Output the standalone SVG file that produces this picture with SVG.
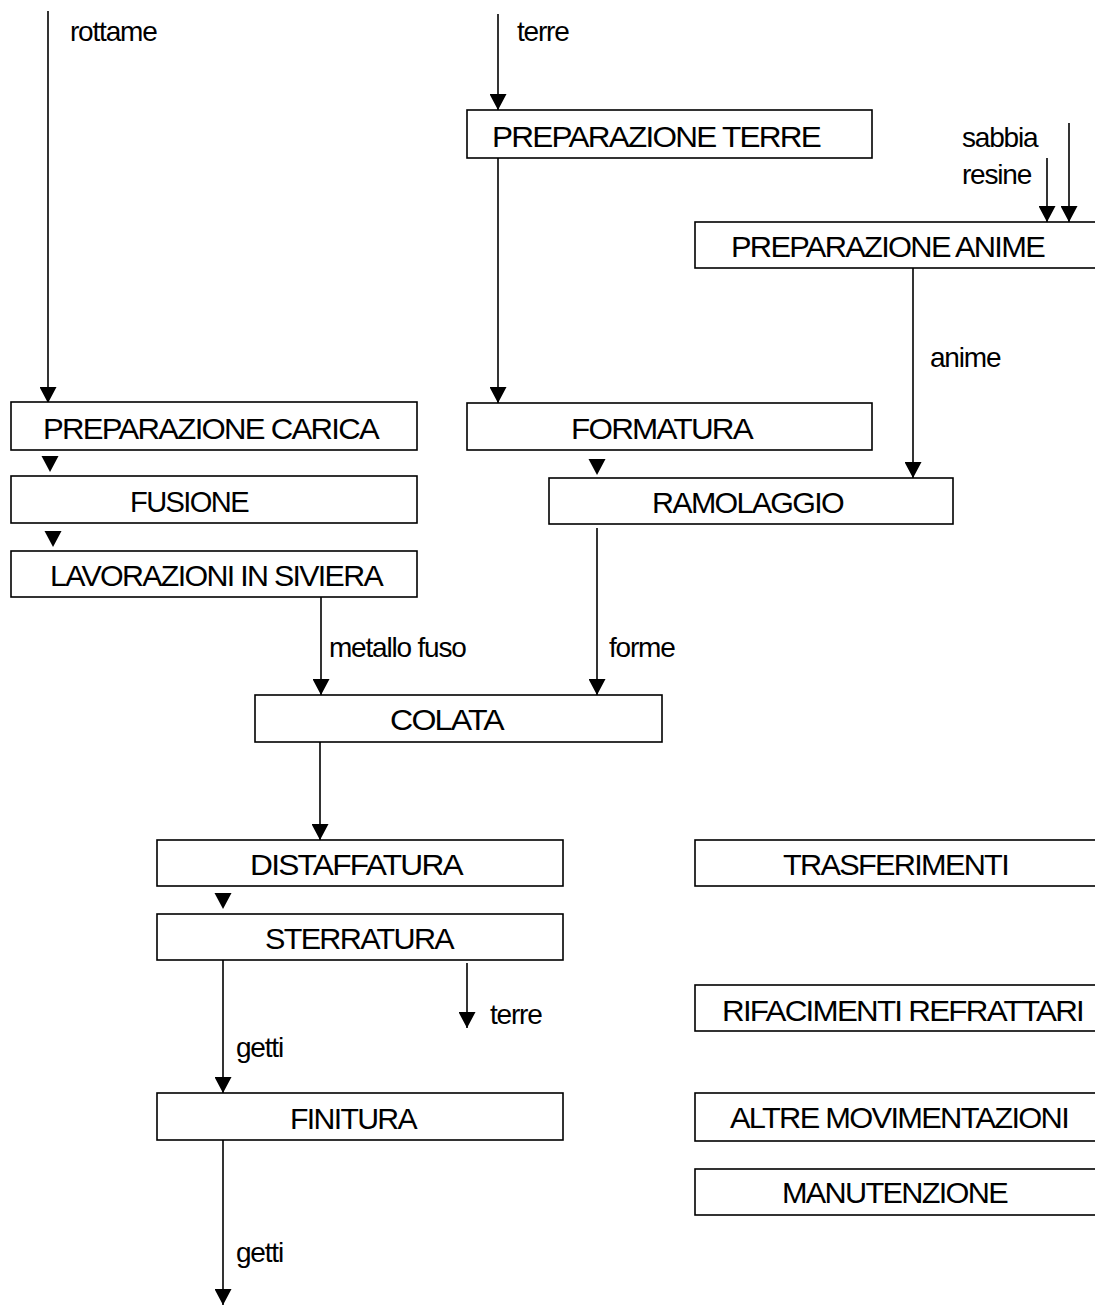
<svg xmlns="http://www.w3.org/2000/svg" width="1095" height="1307" viewBox="0 0 1095 1307">
  <style>
    .box { fill: #fff; stroke: #000; stroke-width: 1.6; }
    .lbl { font-family: "Liberation Sans", Arial, sans-serif; font-size: 29px; fill: #000; letter-spacing: -1.6px; }
    .flw { font-family: "Liberation Sans", Arial, sans-serif; font-size: 28px; fill: #000; letter-spacing: -1.2px; }
    .flow { stroke: #000; stroke-width: 1.6; fill: none; marker-end: url(#arrow); }
  </style>
  <defs>
    <marker id="arrow" markerUnits="userSpaceOnUse" markerWidth="17" markerHeight="17" refX="16" refY="8.5" orient="auto">
      <path d="M0,0 L16,8.5 L0,17 z" fill="#000"/>
    </marker>
    <!-- stand-alone small arrowhead, tip at (0,0) -->
    <path id="tri" d="M-8.5,-16 L8.5,-16 L0,0 z" fill="#000"/>
  </defs>

  <rect width="1095" height="1307" fill="#fff"/>

  <!-- connectors -->
  <g id="connectors">
    <line class="flow" x1="48" y1="11" x2="48" y2="403"/>
    <line class="flow" x1="498" y1="14" x2="498" y2="110"/>
    <line class="flow" x1="498" y1="158" x2="498" y2="403"/>
    <line class="flow" x1="1047" y1="158" x2="1047" y2="222"/>
    <line class="flow" x1="1069" y1="123" x2="1069" y2="222"/>
    <line class="flow" x1="913" y1="268" x2="913" y2="478"/>
    <line class="flow" x1="321" y1="597" x2="321" y2="695"/>
    <line class="flow" x1="597" y1="528" x2="597" y2="695"/>
    <line class="flow" x1="320" y1="742" x2="320" y2="840"/>
    <line class="flow" x1="223" y1="960" x2="223" y2="1093"/>
    <line class="flow" x1="467" y1="963" x2="467" y2="1028"/>
    <line class="flow" x1="223" y1="1140" x2="223" y2="1305"/>
    <!-- short step arrows between stacked boxes -->
    <use href="#tri" x="50" y="472"/>
    <use href="#tri" x="53" y="547"/>
    <use href="#tri" x="597" y="475"/>
    <use href="#tri" x="223" y="909"/>
    <!-- flow labels -->
    <text class="flw" x="70" y="41">rottame</text>
    <text class="flw" x="517" y="41">terre</text>
    <text class="flw" x="962" y="147">sabbia</text>
    <text class="flw" x="962" y="184">resine</text>
    <text class="flw" x="930" y="367">anime</text>
    <text class="flw" x="329" y="657">metallo fuso</text>
    <text class="flw" x="609" y="657">forme</text>
    <text class="flw" x="236" y="1057">getti</text>
    <text class="flw" x="490" y="1024">terre</text>
    <text class="flw" x="236" y="1262">getti</text>
  </g>

  <!-- process steps -->
  <g id="prep-terre">
    <rect class="box" x="467" y="110" width="405" height="48"/>
    <text class="lbl" x="492" y="147" textLength="328" lengthAdjust="spacingAndGlyphs">PREPARAZIONE  TERRE</text>
  </g>
  <g id="prep-anime">
    <rect class="box" x="695" y="222" width="410" height="46"/>
    <text class="lbl" x="731" y="257" textLength="313" lengthAdjust="spacingAndGlyphs">PREPARAZIONE ANIME</text>
  </g>
  <g id="prep-carica">
    <rect class="box" x="11" y="402" width="406" height="48"/>
    <text class="lbl" x="43" y="439" textLength="335" lengthAdjust="spacingAndGlyphs">PREPARAZIONE CARICA</text>
  </g>
  <g id="fusione">
    <rect class="box" x="11" y="476" width="406" height="47"/>
    <text class="lbl" x="130" y="512" textLength="118" lengthAdjust="spacingAndGlyphs">FUSIONE</text>
  </g>
  <g id="lavorazioni">
    <rect class="box" x="11" y="551" width="406" height="46"/>
    <text class="lbl" x="50" y="586" textLength="332" lengthAdjust="spacingAndGlyphs">LAVORAZIONI IN SIVIERA</text>
  </g>
  <g id="formatura">
    <rect class="box" x="467" y="403" width="405" height="47"/>
    <text class="lbl" x="571" y="439" textLength="181" lengthAdjust="spacingAndGlyphs">FORMATURA</text>
  </g>
  <g id="ramolaggio">
    <rect class="box" x="549" y="478" width="404" height="46"/>
    <text class="lbl" x="652" y="513" textLength="191" lengthAdjust="spacingAndGlyphs">RAMOLAGGIO</text>
  </g>
  <g id="colata">
    <rect class="box" x="255" y="695" width="407" height="47"/>
    <text class="lbl" x="390" y="730" textLength="113" lengthAdjust="spacingAndGlyphs">COLATA</text>
  </g>
  <g id="distaffatura">
    <rect class="box" x="157" y="840" width="406" height="46"/>
    <text class="lbl" x="250" y="875" textLength="212" lengthAdjust="spacingAndGlyphs">DISTAFFATURA</text>
  </g>
  <g id="sterratura">
    <rect class="box" x="157" y="914" width="406" height="46"/>
    <text class="lbl" x="265" y="949" textLength="188" lengthAdjust="spacingAndGlyphs">STERRATURA</text>
  </g>
  <g id="finitura">
    <rect class="box" x="157" y="1093" width="406" height="47"/>
    <text class="lbl" x="290" y="1129" textLength="126" lengthAdjust="spacingAndGlyphs">FINITURA</text>
  </g>

  <!-- auxiliary activities -->
  <g id="trasferimenti">
    <rect class="box" x="695" y="840" width="410" height="46"/>
    <text class="lbl" x="783" y="875" textLength="225" lengthAdjust="spacingAndGlyphs">TRASFERIMENTI</text>
  </g>
  <g id="rifacimenti">
    <rect class="box" x="695" y="985" width="410" height="46"/>
    <text class="lbl" x="722" y="1021" textLength="361" lengthAdjust="spacingAndGlyphs">RIFACIMENTI REFRATTARI</text>
  </g>
  <g id="altre-movimentazioni">
    <rect class="box" x="695" y="1093" width="410" height="48"/>
    <text class="lbl" x="730" y="1128" textLength="338" lengthAdjust="spacingAndGlyphs">ALTRE MOVIMENTAZIONI</text>
  </g>
  <g id="manutenzione">
    <rect class="box" x="695" y="1169" width="410" height="46"/>
    <text class="lbl" x="782" y="1203" textLength="225" lengthAdjust="spacingAndGlyphs">MANUTENZIONE</text>
  </g>
</svg>
